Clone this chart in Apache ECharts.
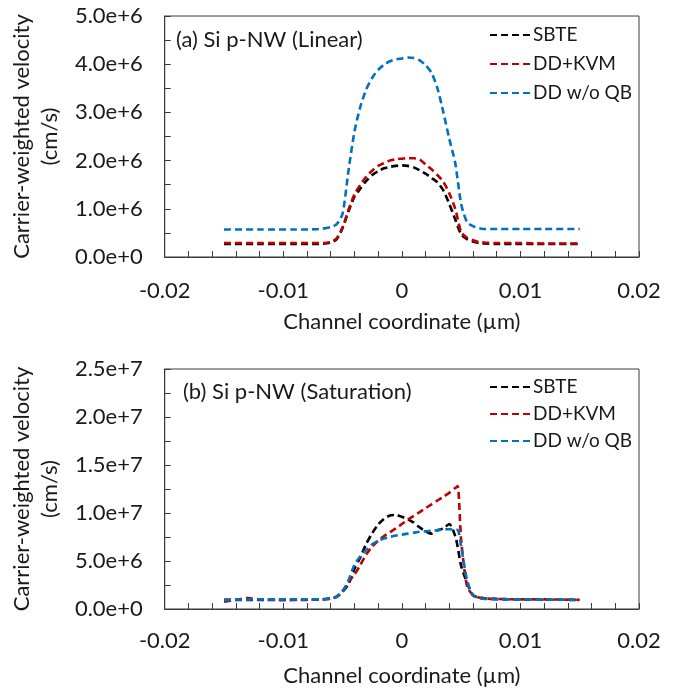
<!DOCTYPE html>
<html>
<head>
<meta charset="utf-8">
<script src="https://cdn.jsdelivr.net/npm/echarts@6/dist/echarts.min.js"></script>
<style>html,body{margin:0;padding:0;background:#fff}#c{width:675px;height:691px}</style>
</head>
<body>
<div id="c"></div>
<script>
// ---- Data (velocity in cm/s) ----
const seriesNames = ['SBTE', 'DD+KVM', 'DD w/o QB'];
const xTicks = [-0.02, -0.01, 0, 0.01, 0.02];

// Panel (a) Linear
const xA = [-0.015, -0.012, -0.009, -0.007, -0.006, -0.0055, -0.005, -0.0045, -0.004, -0.0035, -0.003, -0.0025, -0.002, -0.0015, -0.001, -0.0005, 0, 0.0005, 0.001, 0.0015, 0.002, 0.0025, 0.003, 0.0035, 0.004, 0.0045, 0.005, 0.0055, 0.006, 0.0065, 0.007, 0.008, 0.01, 0.012, 0.015];
const sbteA = [0.27e6, 0.27e6, 0.27e6, 0.27e6, 0.30e6, 0.37e6, 0.60e6, 0.95e6, 1.25e6, 1.42e6, 1.58e6, 1.70e6, 1.78e6, 1.84e6, 1.87e6, 1.89e6, 1.90e6, 1.89e6, 1.86e6, 1.80e6, 1.73e6, 1.64e6, 1.55e6, 1.38e6, 1.10e6, 0.78e6, 0.47e6, 0.37e6, 0.32e6, 0.29e6, 0.28e6, 0.27e6, 0.27e6, 0.27e6, 0.27e6];
const kvmA = [0.29e6, 0.29e6, 0.29e6, 0.29e6, 0.31e6, 0.39e6, 0.62e6, 0.98e6, 1.30e6, 1.50e6, 1.67e6, 1.79e6, 1.89e6, 1.95e6, 2.00e6, 2.03e6, 2.04e6, 2.05e6, 2.05e6, 2.02e6, 1.92e6, 1.82e6, 1.70e6, 1.56e6, 1.32e6, 1.00e6, 0.52e6, 0.40e6, 0.35e6, 0.31e6, 0.30e6, 0.29e6, 0.29e6, 0.28e6, 0.28e6];
const noqbA = [0.57e6, 0.57e6, 0.57e6, 0.58e6, 0.62e6, 0.68e6, 0.90e6, 1.80e6, 2.60e6, 3.12e6, 3.48e6, 3.72e6, 3.88e6, 3.99e6, 4.06e6, 4.10e6, 4.12e6, 4.14e6, 4.13e6, 4.08e6, 3.98e6, 3.82e6, 3.50e6, 3.00e6, 2.45e6, 1.95e6, 1.10e6, 0.72e6, 0.64e6, 0.60e6, 0.58e6, 0.58e6, 0.58e6, 0.58e6, 0.58e6];
const yTicksA = [0, 1e6, 2e6, 3e6, 4e6, 5e6];

// Panel (b) Saturation
const xB = [-0.015, -0.014, -0.013, -0.012, -0.01, -0.008, -0.007, -0.006, -0.0055, -0.005, -0.0045, -0.004, -0.0035, -0.003, -0.0025, -0.002, -0.0015, -0.001, -0.0005, 0, 0.0005, 0.001, 0.0015, 0.002, 0.0025, 0.003, 0.0035, 0.004, 0.0045, 0.0047, 0.005, 0.0055, 0.006, 0.0065, 0.007, 0.008, 0.01, 0.012, 0.015];
const sbteB = [0.95e6, 0.95e6, 0.95e6, 0.95e6, 0.95e6, 0.97e6, 1.0e6, 1.1e6, 1.3e6, 1.8e6, 2.6e6, 4.2e6, 5.4e6, 6.8e6, 7.9e6, 8.8e6, 9.4e6, 9.75e6, 9.8e6, 9.6e6, 9.35e6, 9.0e6, 8.5e6, 8.1e6, 7.85e6, 8.2e6, 8.4e6, 8.85e6, 7.6e6, 6.5e6, 4.5e6, 2.7e6, 1.45e6, 1.2e6, 1.1e6, 1.05e6, 1.0e6, 0.97e6, 0.95e6];
const kvmB = [0.75e6, 0.95e6, 1.15e6, 1.0e6, 0.95e6, 0.95e6, 1.0e6, 1.05e6, 1.3e6, 1.9e6, 2.8e6, 3.6e6, 4.6e6, 5.7e6, 6.5e6, 7.1e6, 7.6e6, 8.0e6, 8.4e6, 8.85e6, 9.3e6, 9.7e6, 10.1e6, 10.5e6, 10.9e6, 11.3e6, 11.7e6, 12.1e6, 12.6e6, 12.8e6, 7.2e6, 2.35e6, 1.45e6, 1.2e6, 1.1e6, 1.05e6, 1.0e6, 1.0e6, 0.95e6];
const noqbB = [0.95e6, 0.97e6, 0.98e6, 1.0e6, 1.0e6, 1.0e6, 1.0e6, 1.1e6, 1.25e6, 1.8e6, 3.0e6, 4.6e6, 5.5e6, 6.15e6, 6.75e6, 7.1e6, 7.35e6, 7.5e6, 7.65e6, 7.75e6, 7.85e6, 7.95e6, 8.05e6, 8.1e6, 8.15e6, 8.2e6, 8.3e6, 8.3e6, 8.25e6, 8.25e6, 6.5e6, 3.0e6, 1.4e6, 1.15e6, 1.05e6, 1.0e6, 1.0e6, 0.97e6, 0.97e6];
const yTicksB = [0, 5e6, 1e7, 1.5e7, 2e7, 2.5e7];

const colors = ['#000000', '#c00000', '#0070c0'];
const FONT = 'Lato';
const TXT = '#1a1a1a';
const AX = '#3a3a3a';

function pairs(xs, ys) { return xs.map((x, i) => [x, ys[i]]); }

function xAxisCfg(gi, margin, gap) {
  return {
    type: 'value', gridIndex: gi, min: xTicks[0], max: xTicks[xTicks.length - 1], interval: 0.01,
    name: 'Channel coordinate (µm)', nameLocation: 'middle', nameGap: gap,
    nameTextStyle: { fontFamily: FONT, fontSize: 22, color: TXT },
    axisLine: { show: true, onZero: false, lineStyle: { color: AX, width: 1 } },
    axisTick: { show: true, inside: true, length: 6, lineStyle: { color: AX } },
    minorTick: { show: true, splitNumber: 5, length: 6, lineStyle: { color: AX } },
    axisLabel: { fontFamily: FONT, fontSize: 22, color: TXT, margin: margin },
    splitLine: { show: false }
  };
}
function yAxisCfg(gi, ticks) {
  return {
    type: 'value', gridIndex: gi, min: ticks[0], max: ticks[ticks.length - 1], interval: ticks[1] - ticks[0],
    name: 'Carrier-weighted velocity\n(cm/s)', nameLocation: 'middle', nameRotate: 90, nameGap: 93,
    nameTextStyle: { fontFamily: FONT, fontSize: 22, color: TXT, lineHeight: 28 },
    axisLine: { show: true, onZero: false, lineStyle: { color: AX, width: 1 } },
    axisTick: { show: true, inside: true, length: 6, lineStyle: { color: AX } },
    minorTick: { show: true, splitNumber: 2, length: 6, lineStyle: { color: AX } },
    axisLabel: { fontFamily: FONT, fontSize: 22, color: TXT, margin: 22, formatter: v => Number(v).toExponential(1) },
    splitLine: { show: false }
  };
}
function lineSeries(name, idx, gi, xs, ys) {
  return {
    type: 'line', name: name, xAxisIndex: gi, yAxisIndex: gi, data: pairs(xs, ys),
    symbol: 'none', showSymbol: false, smooth: 0.25, color: colors[idx],
    lineStyle: { color: colors[idx], width: 2.6, type: [7, 4] }
  };
}
function legendCfg(top, gap) {
  return {
    orient: 'vertical', left: 489, top: top, padding: 0, itemWidth: 41, itemHeight: 14, itemGap: gap,
    itemStyle: { opacity: 0 },
    textStyle: { fontFamily: FONT, fontSize: 19, color: TXT, lineHeight: 20, padding: [0, 0, 0, -3] },
    data: seriesNames, selectedMode: false
  };
}

const chart = echarts.init(document.getElementById('c'), null, { renderer: 'canvas' });
chart.setOption({
  animation: false,
  backgroundColor: '#ffffff',
  grid: [
    { left: 159, top: 16, width: 480, height: 241, show: true, borderColor: AX, borderWidth: 1, backgroundColor: 'transparent' },
    { left: 159, top: 369, width: 480, height: 240, show: true, borderColor: AX, borderWidth: 1, backgroundColor: 'transparent' }
  ],
  xAxis: [xAxisCfg(0, 23, 54), xAxisCfg(1, 21, 56)],
  yAxis: [yAxisCfg(0, yTicksA), yAxisCfg(1, yTicksB)],
  legend: [legendCfg(25, 9), legendCfg(377, 7)],
  graphic: [
    { type: 'text', left: 176, top: 29, style: { text: '(a) Si p-NW (Linear)', fontFamily: FONT, fontSize: 22, fill: TXT } },
    { type: 'text', left: 183, top: 381, style: { text: '(b) Si p-NW (Saturation)', fontFamily: FONT, fontSize: 22, fill: TXT } }
  ],
  series: [
    lineSeries(seriesNames[0], 0, 0, xA, sbteA),
    lineSeries(seriesNames[1], 1, 0, xA, kvmA),
    lineSeries(seriesNames[2], 2, 0, xA, noqbA),
    lineSeries(seriesNames[0], 0, 1, xB, sbteB),
    lineSeries(seriesNames[1], 1, 1, xB, kvmB),
    lineSeries(seriesNames[2], 2, 1, xB, noqbB)
  ]
});
</script>
</body>
</html>
